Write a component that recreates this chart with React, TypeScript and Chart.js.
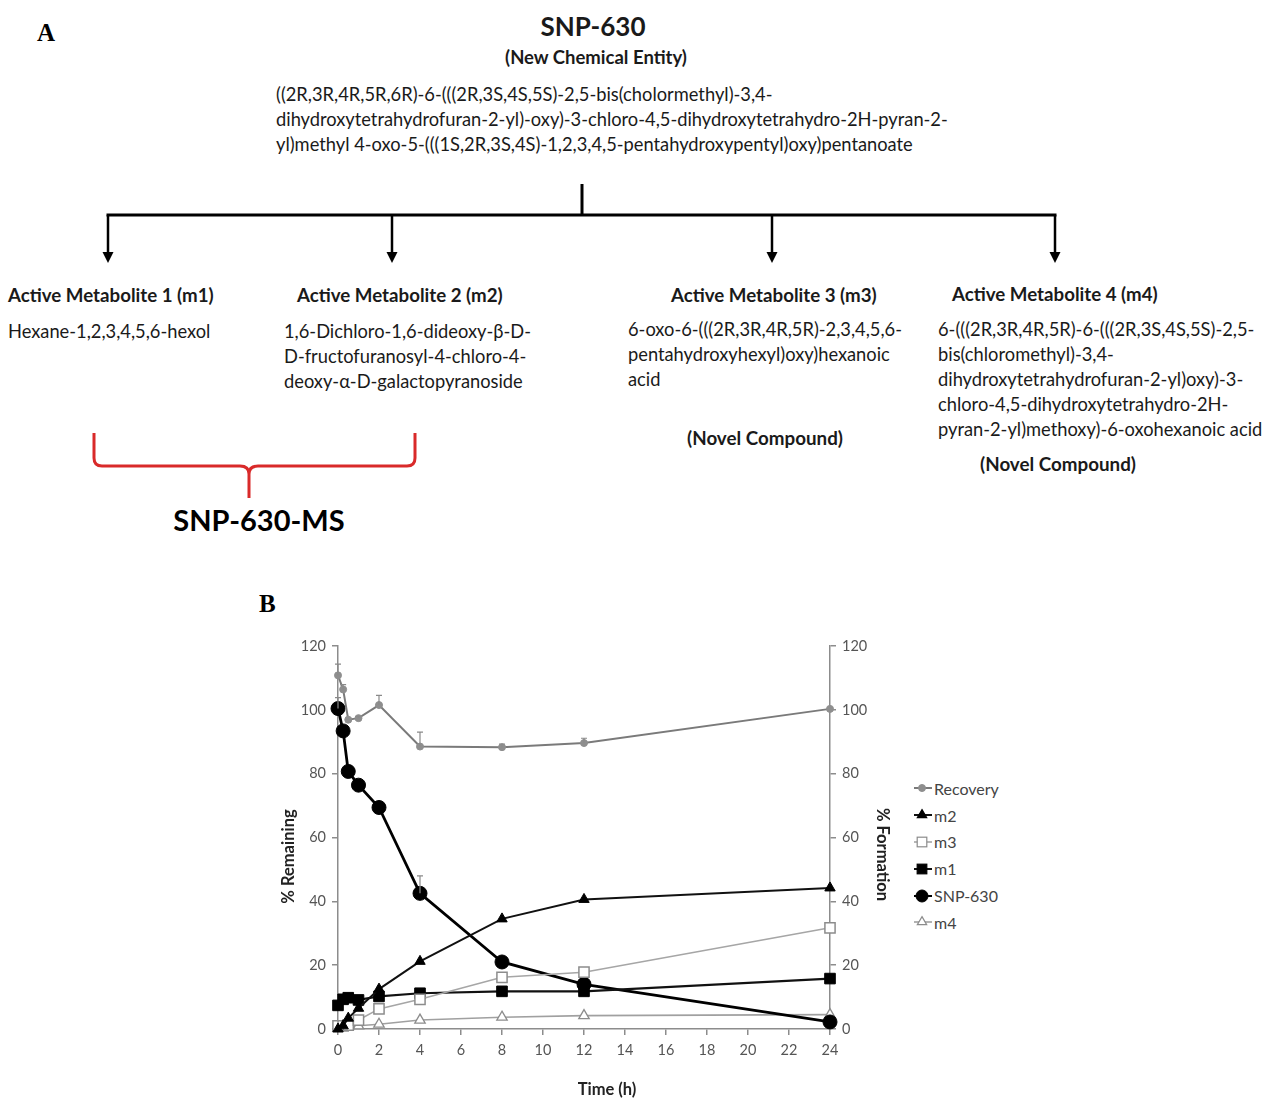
import React, { useEffect, useRef } from "react";
import { Chart, registerables } from "chart.js";

Chart.register(...registerables);

// ---- data ----
const timeHours = [0, 0.25, 0.5, 1, 2, 4, 8, 12, 24];
const recovery = [110.8, 106.4, 96.9, 97.4, 101.5, 88.5, 88.3, 89.6, 100.3];
const recoveryErr = [3.5, 1.5, 0, 0.5, 3, 4.5, 1, 1.5, 0];
const m2 = [0, 1, 3.4, 6.5, 12.5, 21.2, 34.5, 40.6, 44.2];
const m3 = [1.0, 1.0, 1.2, 2.8, 6.3, 9.3, 16.2, 17.8, 31.7];
const m1 = [7.4, 9.3, 9.8, 9.1, 10.2, 11.2, 11.8, 11.8, 15.8];
const snp630 = [100.4, 93.4, 80.7, 76.4, 69.4, 42.5, 21.0, 14.0, 2.2];
const snp630Err = [3.4, 0, 0, 0, 0, 5.5, 0, 0, 0];
const m4 = [0.3, 0.5, 0.8, 1.0, 1.5, 2.8, 3.7, 4.2, 4.5];
const yTicks = [0, 20, 40, 60, 80, 100, 120];
const xTicks = [0, 2, 4, 6, 8, 10, 12, 14, 16, 18, 20, 22, 24];
const xTitle = "Time (h)";
const yLeftTitle = "% Remaining";
const yRightTitle = "% Formation";

const FONT = "Lato, 'Open Sans', sans-serif";

type SeriesStyle = {
  label: string;
  values: number[];
  errors?: number[];
  axis: string;
  lineColor: string;
  lineWidth: number;
  pointStyle: string;
  radius: number;
  fill: string;
  stroke: string;
  pointBorder: number;
};

const series: SeriesStyle[] = [
  { label: "Recovery", values: recovery, errors: recoveryErr, axis: "y", lineColor: "#7a7a7a", lineWidth: 2, pointStyle: "circle", radius: 3.5, fill: "#8e8e8e", stroke: "#8e8e8e", pointBorder: 1 },
  { label: "m2", values: m2, axis: "y2", lineColor: "#111111", lineWidth: 2, pointStyle: "triangle", radius: 6, fill: "#000000", stroke: "#000000", pointBorder: 1 },
  { label: "m3", values: m3, axis: "y2", lineColor: "#a6a6a6", lineWidth: 1.6, pointStyle: "rect", radius: 7.2, fill: "#ffffff", stroke: "#8c8c8c", pointBorder: 1.5 },
  { label: "m1", values: m1, axis: "y2", lineColor: "#111111", lineWidth: 2.2, pointStyle: "rect", radius: 7.5, fill: "#000000", stroke: "#000000", pointBorder: 1 },
  { label: "SNP-630", values: snp630, errors: snp630Err, axis: "y", lineColor: "#000000", lineWidth: 2.8, pointStyle: "circle", radius: 7, fill: "#000000", stroke: "#000000", pointBorder: 1 },
  { label: "m4", values: m4, axis: "y2", lineColor: "#a0a0a0", lineWidth: 1.6, pointStyle: "triangle", radius: 6, fill: "#ffffff", stroke: "#8c8c8c", pointBorder: 1.3 },
];

const errorBarPlugin = {
  id: "errorBars",
  afterDatasetsDraw(chart: any) {
    const ctx = chart.ctx;
    chart.data.datasets.forEach((ds: any, i: number) => {
      if (!ds.errors) return;
      const yScale = chart.scales[ds.yAxisID];
      const xScale = chart.scales.x;
      ctx.save();
      ctx.strokeStyle = "#8a8a8a";
      ctx.lineWidth = 1.2;
      ds.data.forEach((pt: any, j: number) => {
        const e = ds.errors[j];
        if (!e) return;
        const px = xScale.getPixelForValue(pt.x);
        const y0 = yScale.getPixelForValue(pt.y);
        const y1 = yScale.getPixelForValue(pt.y + e);
        ctx.beginPath();
        ctx.moveTo(px, y0);
        ctx.lineTo(px, y1);
        ctx.moveTo(px - 3, y1);
        ctx.lineTo(px + 3, y1);
        ctx.stroke();
      });
      ctx.restore();
    });
  },
};

// axis titles drawn off-centre, as in the original figure
const axisTitlePlugin = {
  id: "axisTitles",
  afterDraw(chart: any) {
    const { ctx, chartArea } = chart;
    const midY = (chartArea.top + chartArea.bottom) / 2;
    const midX = (chartArea.left + chartArea.right) / 2;
    ctx.save();
    ctx.fillStyle = "#222222";
    ctx.font = `bold 16.5px ${FONT}`;
    ctx.textAlign = "center";
    ctx.textBaseline = "middle";
    // left
    ctx.save();
    ctx.translate(chartArea.left - 49, midY + 19);
    ctx.rotate(-Math.PI / 2);
    ctx.fillText(yLeftTitle, 0, 0);
    ctx.restore();
    // right
    ctx.save();
    ctx.translate(chartArea.right + 52, midY + 17);
    ctx.rotate(Math.PI / 2);
    ctx.fillText(yRightTitle, 0, 0);
    ctx.restore();
    // bottom
    ctx.fillText(xTitle, midX + 23, chartArea.bottom + 61);
    ctx.restore();
  },
};

function ChartB() {
  const ref = useRef<HTMLCanvasElement | null>(null);
  useEffect(() => {
    if (!ref.current) return;
    const datasets = series.map((s) => ({
      label: s.label,
      data: timeHours.map((t, i) => ({ x: t, y: s.values[i] })),
      errors: s.errors,
      yAxisID: s.axis,
      borderColor: s.lineColor,
      borderWidth: s.lineWidth,
      pointStyle: s.pointStyle,
      pointRadius: s.radius,
      pointBackgroundColor: s.fill,
      pointBorderColor: s.stroke,
      pointBorderWidth: s.pointBorder,
      tension: 0,
      clip: false,
    }));
    const tickFont = { family: FONT, size: 14.5 };
    const axisColor = "#8c8c8c";
    const chart = new Chart(ref.current, {
      type: "line",
      data: { datasets: datasets as any },
      plugins: [errorBarPlugin, axisTitlePlugin],
      options: {
        animation: false,
        responsive: false,
        maintainAspectRatio: false,
        layout: { padding: { top: 16, left: 0, right: 0, bottom: 0 } },
        plugins: { legend: { display: false }, tooltip: { enabled: false } },
        scales: {
          x: {
            type: "linear",
            min: 0,
            max: 24,
            afterBuildTicks: (scale: any) => {
              scale.ticks = xTicks.map((v) => ({ value: v }));
            },
            afterFit: (scale: any) => {
              scale.height = 70;
            },
            ticks: { color: "#555555", font: tickFont, padding: 7, maxRotation: 0, autoSkip: false },
            grid: { drawOnChartArea: false, tickLength: 6, color: axisColor, lineWidth: 1.5 },
            border: { color: axisColor, width: 1.5 },
            title: { display: false },
          },
          y: {
            position: "left",
            min: 0,
            max: 120,
            afterBuildTicks: (scale: any) => {
              scale.ticks = yTicks.map((v) => ({ value: v }));
            },
            afterFit: (scale: any) => {
              scale.width = 68;
            },
            ticks: { color: "#555555", font: tickFont, padding: 6 },
            grid: { drawOnChartArea: false, tickLength: 6, color: axisColor, lineWidth: 1.5 },
            border: { color: axisColor, width: 1.5 },
            title: { display: false },
          },
          y2: {
            position: "right",
            min: 0,
            max: 120,
            afterBuildTicks: (scale: any) => {
              scale.ticks = yTicks.map((v) => ({ value: v }));
            },
            afterFit: (scale: any) => {
              scale.width = 66;
            },
            ticks: { color: "#555555", font: tickFont, padding: 6 },
            grid: { drawOnChartArea: false, tickLength: 6, color: axisColor, lineWidth: 1.5 },
            border: { color: axisColor, width: 1.5 },
            title: { display: false },
          },
        },
      } as any,
    });
    return () => chart.destroy();
  }, []);
  return (
    <canvas
      ref={ref}
      width={626}
      height={469}
      style={{ position: "absolute", left: 270, top: 630, width: 626, height: 469 }}
    />
  );
}

function LegendMarker({ s }: { s: SeriesStyle }) {
  const cx = 9;
  const cy = 9;
  let marker: React.ReactNode = null;
  const r = Math.min(s.radius, 6);
  if (s.pointStyle === "circle") {
    marker = <circle cx={cx} cy={cy} r={r} fill={s.fill} stroke={s.stroke} strokeWidth={1} />;
  } else if (s.pointStyle === "rect") {
    const h = r * 0.8;
    marker = <rect x={cx - h} y={cy - h} width={2 * h} height={2 * h} fill={s.fill} stroke={s.stroke} strokeWidth={1.2} />;
  } else {
    const rr = r * 0.9;
    const pts = [
      [cx, cy - rr],
      [cx + rr * 0.866, cy + rr * 0.5],
      [cx - rr * 0.866, cy + rr * 0.5],
    ]
      .map((p) => p.join(","))
      .join(" ");
    marker = <polygon points={pts} fill={s.fill} stroke={s.stroke} strokeWidth={1.2} />;
  }
  return (
    <svg width={20} height={18} style={{ display: "block" }}>
      <line x1={1} y1={cy} x2={19} y2={cy} stroke={s.lineColor} strokeWidth={Math.min(s.lineWidth, 2)} />
      {marker}
    </svg>
  );
}

function Legend() {
  return (
    <div style={{ position: "absolute", left: 913, top: 775 }}>
      {series.map((s) => (
        <div key={s.label} style={{ display: "flex", alignItems: "center", height: 26.8, fontFamily: FONT, fontSize: 16, color: "#444444" }}>
          <LegendMarker s={s} />
          <span style={{ marginLeft: 1 }}>{s.label}</span>
        </div>
      ))}
    </div>
  );
}

const txt = (extra: React.CSSProperties): React.CSSProperties => ({
  position: "absolute",
  fontFamily: FONT,
  fontSize: 18.3,
  lineHeight: "25px",
  color: "#1a1a1a",
  whiteSpace: "nowrap",
  ...extra,
});

function Diagram() {
  const arrowXs = [108, 392, 772, 1055];
  return (
    <>
      <svg width={1266} height={1099} style={{ position: "absolute", left: 0, top: 0 }}>
        <line x1={582} y1={184} x2={582} y2={216} stroke="#000" strokeWidth={3} />
        <line x1={106.5} y1={215} x2={1056.5} y2={215} stroke="#000" strokeWidth={3} />
        {arrowXs.map((x) => (
          <g key={x}>
            <line x1={x} y1={215} x2={x} y2={254} stroke="#000" strokeWidth={2.5} />
            <polygon points={`${x - 5.5},${252} ${x + 5.5},${252} ${x},${263}`} fill="#000" />
          </g>
        ))}
        <path
          d="M 94 433 L 94 458 Q 94 466 102 466 L 240 466 Q 249 466 249 474 L 249 498 M 249 474 Q 249 466 258 466 L 407 466 Q 415 466 415 458 L 415 433"
          fill="none"
          stroke="#d92a2a"
          strokeWidth={3}
        />
      </svg>
      <div style={{ position: "absolute", left: 37, top: 18, fontFamily: "'Liberation Serif', serif", fontWeight: "bold", fontSize: 25, lineHeight: "30px", color: "#000" }}>A</div>
      <div style={{ position: "absolute", left: 259, top: 589, fontFamily: "'Liberation Serif', serif", fontWeight: "bold", fontSize: 25, lineHeight: "30px", color: "#000" }}>B</div>
      <div style={txt({ left: 593, top: 10, transform: "translateX(-50%)", fontSize: 26, lineHeight: "32px", fontWeight: "bold" })}>SNP-630</div>
      <div style={txt({ left: 596, top: 44.5, transform: "translateX(-50%)", fontSize: 18.5, fontWeight: "bold" })}>(New Chemical Entity)</div>
      <div style={txt({ left: 276, top: 81.5 })}>
        <div>((2R,3R,4R,5R,6R)-6-(((2R,3S,4S,5S)-2,5-bis(cholormethyl)-3,4-</div>
        <div>dihydroxytetrahydrofuran-2-yl)-oxy)-3-chloro-4,5-dihydroxytetrahydro-2H-pyran-2-</div>
        <div>yl)methyl 4-oxo-5-(((1S,2R,3S,4S)-1,2,3,4,5-pentahydroxypentyl)oxy)pentanoate</div>
      </div>
      <div style={txt({ left: 8, top: 282.5, fontSize: 18.7, fontWeight: "bold" })}>Active Metabolite 1 (m1)</div>
      <div style={txt({ left: 297, top: 282.5, fontSize: 18.7, fontWeight: "bold" })}>Active Metabolite 2 (m2)</div>
      <div style={txt({ left: 671, top: 282.5, fontSize: 18.7, fontWeight: "bold" })}>Active Metabolite 3 (m3)</div>
      <div style={txt({ left: 952, top: 281.5, fontSize: 18.7, fontWeight: "bold" })}>Active Metabolite 4 (m4)</div>
      <div style={txt({ left: 8, top: 318.5 })}>Hexane-1,2,3,4,5,6-hexol</div>
      <div style={txt({ left: 284, top: 318.5 })}>
        <div>1,6-Dichloro-1,6-dideoxy-β-D-</div>
        <div>D-fructofuranosyl-4-chloro-4-</div>
        <div>deoxy-α-D-galactopyranoside</div>
      </div>
      <div style={txt({ left: 628, top: 316.5 })}>
        <div>6-oxo-6-(((2R,3R,4R,5R)-2,3,4,5,6-</div>
        <div>pentahydroxyhexyl)oxy)hexanoic</div>
        <div>acid</div>
      </div>
      <div style={txt({ left: 938, top: 316.5, lineHeight: "25.2px" })}>
        <div>6-(((2R,3R,4R,5R)-6-(((2R,3S,4S,5S)-2,5-</div>
        <div>bis(chloromethyl)-3,4-</div>
        <div>dihydroxytetrahydrofuran-2-yl)oxy)-3-</div>
        <div>chloro-4,5-dihydroxytetrahydro-2H-</div>
        <div>pyran-2-yl)methoxy)-6-oxohexanoic acid</div>
      </div>
      <div style={txt({ left: 765, top: 424.5, transform: "translateX(-50%)", fontSize: 18.8, fontWeight: "bold" })}>(Novel Compound)</div>
      <div style={txt({ left: 1058, top: 450.5, transform: "translateX(-50%)", fontSize: 18.8, fontWeight: "bold" })}>(Novel Compound)</div>
      <div style={txt({ left: 259, top: 503, transform: "translateX(-50%)", fontSize: 29, lineHeight: "34px", fontWeight: "bold", color: "#000" })}>SNP-630-MS</div>
    </>
  );
}

export default function App() {
  return (
    <div style={{ position: "absolute", left: 0, top: 0, width: 1266, height: 1099, background: "#ffffff", overflow: "hidden" }}>
      <Diagram />
      <ChartB />
      <Legend />
    </div>
  );
}
